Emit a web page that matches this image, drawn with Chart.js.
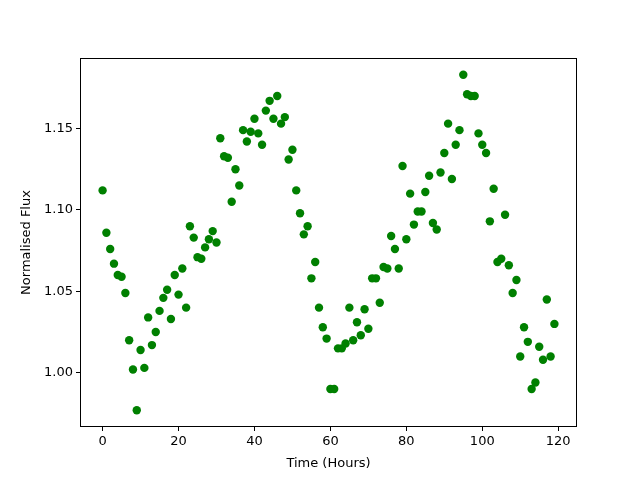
<!DOCTYPE html>
<html>
<head>
<meta charset="utf-8">
<script src="https://cdn.jsdelivr.net/npm/chart.js@4/dist/chart.umd.min.js"></script>
<style>
  html, body { margin: 0; padding: 0; background: #fff; }
  #wrap { width: 640px; height: 480px; }
</style>
</head>
<body>
<div id="wrap"><canvas id="flux-chart"></canvas></div>
<script>
// time in hours, one reading per hour
const hours = Array.from({ length: 120 }, (_, i) => i);

const flux = [
  1.112, 1.086, 1.076, 1.067, 1.060, 1.059, 1.049, 1.020, 1.002, 0.977,
  1.014, 1.003, 1.034, 1.017, 1.025, 1.038, 1.046, 1.051, 1.033, 1.060,
  1.048, 1.064, 1.040, 1.090, 1.083, 1.071, 1.070, 1.077, 1.082, 1.087,
  1.080, 1.144, 1.133, 1.132, 1.105, 1.125, 1.115, 1.149, 1.142, 1.148,
  1.156, 1.147, 1.140, 1.161, 1.167, 1.156, 1.170, 1.153, 1.157, 1.131,
  1.137, 1.112, 1.098, 1.085, 1.090, 1.058, 1.068, 1.040, 1.028, 1.021,
  0.990, 0.990, 1.015, 1.015, 1.018, 1.040, 1.020, 1.031, 1.023, 1.039,
  1.027, 1.058, 1.058, 1.043, 1.065, 1.064, 1.084, 1.076, 1.064, 1.127,
  1.082, 1.110, 1.091, 1.099, 1.099, 1.111, 1.121, 1.092, 1.088, 1.123,
  1.135, 1.153, 1.119, 1.140, 1.149, 1.183, 1.171, 1.170, 1.170, 1.147,
  1.140, 1.135, 1.093, 1.113, 1.068, 1.070, 1.097, 1.066, 1.049, 1.057,
  1.010, 1.028, 1.019, 0.990, 0.994, 1.016, 1.008, 1.045, 1.010, 1.030
];

const xTicks = [0, 20, 40, 60, 80, 100, 120];
const yTicks = [1.00, 1.05, 1.10, 1.15];

const FONT = 'DejaVu Sans';

// matplotlib-style full frame around the plot area
const frameBox = {
  id: 'frameBox',
  afterDraw(chart) {
    const { ctx, chartArea: a } = chart;
    ctx.save();
    ctx.strokeStyle = '#000';
    ctx.lineWidth = 1;
    ctx.strokeRect(a.left + 0.5, a.top + 0.5, a.right - a.left - 1, a.bottom - a.top - 1);
    ctx.restore();
  }
};

new Chart(document.getElementById('flux-chart'), {
  type: 'scatter',
  data: {
    datasets: [
      {
        label: 'Flux',
        data: hours.map((h, i) => ({ x: h, y: flux[i] })),
        backgroundColor: '#008000',
        borderColor: '#008000',
        pointRadius: 4.2,
        pointHoverRadius: 4.2,
        borderWidth: 0
      }
    ]
  },
  options: {
    responsive: true,
    maintainAspectRatio: false,
    animation: false,
    layout: { padding: { left: 0, right: 63, top: 58, bottom: 0 } },
    plugins: {
      legend: { display: false },
      tooltip: { enabled: false }
    },
    scales: {
      x: {
        type: 'linear',
        min: -5.95,
        max: 124.95,
        afterBuildTicks: (scale) => { scale.ticks = xTicks.map((v) => ({ value: v })); },
        afterFit: (scale) => { scale.height = 53; },
        border: { display: false },
        grid: { drawOnChartArea: false, tickLength: 4, color: '#000', tickColor: '#000' },
        ticks: { color: '#000', font: { family: FONT, size: 13 }, padding: 3, maxRotation: 0 },
        title: { display: true, text: 'Time (Hours)', color: '#000', font: { family: FONT, size: 13 }, padding: { top: 2, bottom: 9 } }
      },
      y: {
        type: 'linear',
        min: 0.9667,
        max: 1.1933,
        afterBuildTicks: (scale) => { scale.ticks = yTicks.map((v) => ({ value: v })); },
        afterFit: (scale) => { scale.width = 80; },
        border: { display: false },
        grid: { drawOnChartArea: false, tickLength: 4, color: '#000', tickColor: '#000' },
        ticks: {
          color: '#000',
          font: { family: FONT, size: 13 },
          padding: 3,
          callback: (v) => Number(v).toFixed(2)
        },
        title: { display: true, text: 'Normalised Flux', color: '#000', font: { family: FONT, size: 13 }, padding: { top: 19, bottom: 0 } }
      }
    }
  },
  plugins: [frameBox]
});
</script>
</body>
</html>
